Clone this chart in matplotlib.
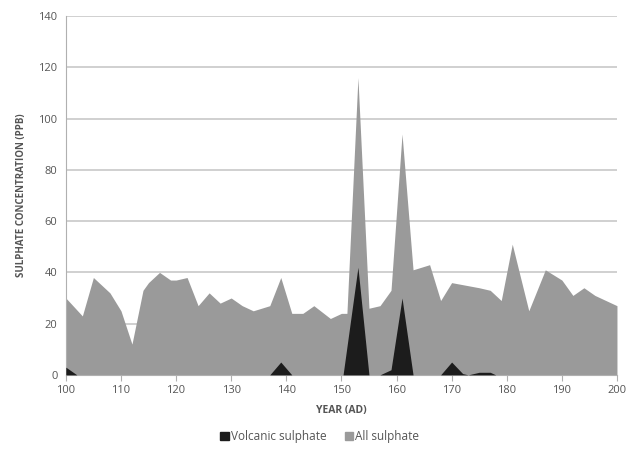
import matplotlib.pyplot as plt
from matplotlib.patches import Patch

# all sulphate (gray area)
all_years = [100, 103, 105, 108, 110, 112, 114, 115, 117, 119, 120, 122, 124, 126, 128, 130,
             132, 134, 137, 139, 141, 143, 145, 148, 150, 151, 153, 155, 157, 159, 161, 163,
             166, 168, 170, 175, 177, 179, 181, 184, 187, 190, 192, 194, 196, 200]
all_vals = [30, 23, 38, 32, 25, 12, 33, 36, 40, 37, 37, 38, 27, 32, 28, 30,
            27, 25, 27, 38, 24, 24, 27, 22, 24, 24, 116, 26, 27, 33, 94, 41,
            43, 29, 36, 34, 33, 29, 51, 25, 41, 37, 31, 34, 31, 27]

# volcanic sulphate (black area)
volc_years = [100, 102, 137, 139, 141, 150.3, 153, 155, 157, 159, 161, 163,
              168, 170, 172, 173, 175, 177, 178, 200]
volc_vals = [3, 0, 0, 5, 0, 0, 42, 0, 0, 2, 30, 0,
             0, 5, 0.5, 0, 1, 1, 0, 0]

txt = '#555555'
plt.rcParams['font.family'] = ['Open Sans', 'DejaVu Sans']

fig = plt.figure(figsize=(6.27, 4.5), dpi=100)
ax = fig.add_axes([0.105, 0.167, 0.879, 0.797])

ax.fill_between(all_years, all_vals, 0, color='#9a9a9a', lw=0, zorder=2)
ax.fill_between(volc_years, volc_vals, 0, color='#1c1c1c', lw=0, zorder=3)

ax.set_xlim(100, 200)
ax.set_ylim(0, 140)
ax.set_xticks(range(100, 201, 10))
ax.set_yticks(range(0, 141, 20))
ax.grid(axis='y', color='#c8c8c8', lw=1.2, zorder=0)
ax.set_axisbelow(True)
for s in ['top', 'right']:
    ax.spines[s].set_visible(False)
ax.spines['left'].set_color('#b0b0b0')
ax.spines['bottom'].set_color('#b0b0b0')
ax.tick_params(axis='both', colors='#b0b0b0', labelcolor=txt, labelsize=8, length=4)
ax.tick_params(axis='y', length=0, pad=6)

ax.set_xlabel('YEAR (AD)', fontsize=7.5, fontweight='bold', color=txt, labelpad=6)
ax.set_ylabel('SULPHATE CONCENTRATION (PPB)', fontsize=7, fontweight='bold', color=txt, labelpad=8)

handles = [Patch(color='#1c1c1c', label='Volcanic sulphate'),
           Patch(color='#9a9a9a', label='All sulphate')]
fig.legend(handles=handles, loc='lower center', bbox_to_anchor=(0.51, -0.008), ncol=2,
           frameon=False, fontsize=8.5, labelcolor=txt, handlelength=0.7, handleheight=0.7,
           handletextpad=0.15, columnspacing=1.6)

fig.savefig('out.png', dpi=100)
